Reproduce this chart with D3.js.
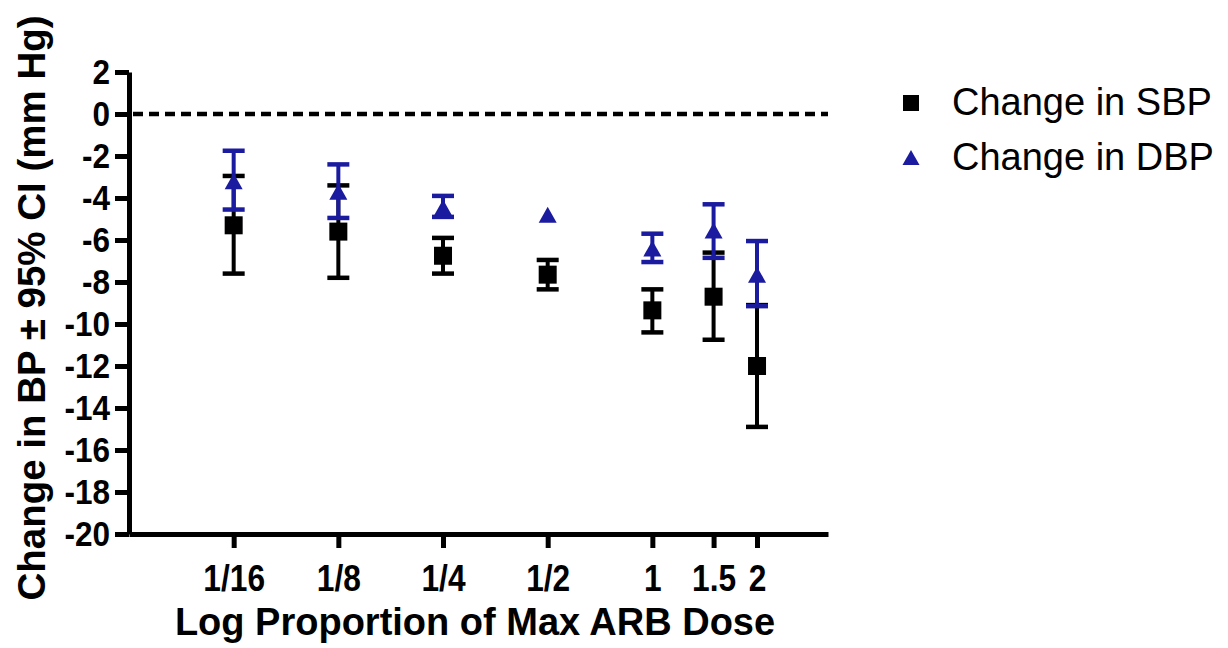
<!DOCTYPE html>
<html>
<head>
<meta charset="utf-8">
<script src="https://cdn.jsdelivr.net/npm/d3@7"></script>
<style>
  html, body { margin: 0; padding: 0; background: #fff; }
  svg { display: block; }
  text { font-family: "Liberation Sans", Arial, Helvetica, sans-serif; }
</style>
</head>
<body>
<svg id="chart" width="1228" height="648"></svg>
<script>
// Dose groups (proportion of maximum ARB dose)
const doseLabels = ["1/16", "1/8", "1/4", "1/2", "1", "1.5", "2"];
const doses = [1 / 16, 1 / 8, 1 / 4, 1 / 2, 1, 1.5, 2];

// Change in systolic BP (mm Hg) with 95% CI
const sbpMean = [-5.3, -5.6, -6.75, -7.65, -9.35, -8.7, -12.0];
const sbpLow  = [-7.6, -7.8, -7.6, -8.35, -10.4, -10.75, -14.9];
const sbpHigh = [-2.95, -3.4, -5.9, -6.95, -8.35, -6.6, -9.1];

// Change in diastolic BP (mm Hg) with 95% CI (null = no interval drawn)
const dbpMean = [-3.2, -3.7, -4.45, -4.8, -6.4, -5.55, -7.65];
const dbpLow  = [-4.55, -4.95, -4.9, null, -7.05, -6.85, -9.15];
const dbpHigh = [-1.75, -2.4, -3.9, null, -5.7, -4.3, -6.05];

const yTicks = d3.range(-20, 3, 2);
const legendLabels = ["Change in SBP", "Change in DBP"];

const BLACK = "#000000";
const BLUE = "#1b1ba0";

const svg = d3.select("#chart");

const x = d3.scaleLog().base(2).domain([1 / 32, 3.2]).range([129, 828]);
const y = d3.scaleLinear().domain([-20, 2]).range([534, 72]);

// Narrow the bold tick labels a little, keeping their height
function condense(sel, factor) {
  sel.each(function () {
    const w = this.getComputedTextLength();
    d3.select(this)
      .attr("textLength", w * factor)
      .attr("lengthAdjust", "spacingAndGlyphs");
  });
}

// Y axis
const yAxis = svg.append("g")
  .attr("transform", "translate(129,0)")
  .call(d3.axisLeft(y).tickValues(yTicks).tickSize(14).tickSizeOuter(0)
    .tickPadding(5).tickFormat(d => String(d)));
yAxis.select(".domain").attr("stroke", BLACK).attr("stroke-width", 5);
yAxis.selectAll(".tick line").attr("stroke", BLACK).attr("stroke-width", 5);
yAxis.selectAll(".tick text")
  .attr("fill", BLACK)
  .style("font-size", "35px")
  .style("font-weight", "bold")
  .call(condense, 0.9);

// X axis
const xAxis = svg.append("g")
  .attr("transform", "translate(0,534)")
  .call(d3.axisBottom(x).tickValues(doses).tickSize(14).tickSizeOuter(0)
    .tickPadding(17).tickFormat((d, i) => doseLabels[i]));
xAxis.select(".domain").attr("stroke", BLACK).attr("stroke-width", 5);
xAxis.selectAll(".tick line").attr("stroke", BLACK).attr("stroke-width", 5);
xAxis.selectAll(".tick text")
  .attr("fill", BLACK)
  .style("font-size", "36px")
  .style("font-weight", "bold")
  .call(condense, 0.88);

// Zero reference line
svg.append("line")
  .attr("x1", x.range()[0] + 4).attr("x2", x.range()[1])
  .attr("y1", y(0)).attr("y2", y(0))
  .attr("stroke", BLACK).attr("stroke-width", 4.5)
  .attr("stroke-dasharray", "10,6");

// Axis titles
svg.append("text")
  .attr("x", 475).attr("y", 635)
  .attr("text-anchor", "middle")
  .style("font-size", "38px").style("font-weight", "bold")
  .text("Log Proportion of Max ARB Dose");

svg.append("text")
  .attr("transform", "translate(45,308) rotate(-90)")
  .attr("text-anchor", "middle")
  .style("font-size", "38.5px").style("font-weight", "bold")
  .text("Change in BP \u00B1 95% CI (mm Hg)");

const CAP = 11;

function drawSeries(mean, low, high, color, shape) {
  const g = svg.append("g");
  const rows = doses.map((d, i) => ({ d, m: mean[i], lo: low[i], hi: high[i] }));
  const withCi = rows.filter(r => r.lo !== null && r.hi !== null);

  g.selectAll("line.stem").data(withCi).join("line")
    .attr("x1", r => x(r.d)).attr("x2", r => x(r.d))
    .attr("y1", r => y(r.lo)).attr("y2", r => y(r.hi))
    .attr("stroke", color).attr("stroke-width", 4);

  ["lo", "hi"].forEach(k => {
    g.selectAll("line.cap-" + k).data(withCi).join("line")
      .attr("x1", r => x(r.d) - CAP).attr("x2", r => x(r.d) + CAP)
      .attr("y1", r => y(r[k])).attr("y2", r => y(r[k]))
      .attr("stroke", color).attr("stroke-width", 4.5);
  });

  if (shape === "square") {
    g.selectAll("rect").data(rows).join("rect")
      .attr("x", r => x(r.d) - 9).attr("y", r => y(r.m) - 9)
      .attr("width", 18).attr("height", 18)
      .attr("fill", color);
  } else {
    g.selectAll("path").data(rows).join("path")
      .attr("d", r => {
        const cx = x(r.d), cy = y(r.m);
        return `M${cx},${cy - 8}L${cx + 9},${cy + 8}L${cx - 9},${cy + 8}Z`;
      })
      .attr("fill", color);
  }
}

drawSeries(sbpMean, sbpLow, sbpHigh, BLACK, "square");
drawSeries(dbpMean, dbpLow, dbpHigh, BLUE, "triangle");

// Legend
const legend = svg.append("g");
legend.append("rect")
  .attr("x", 903).attr("y", 95).attr("width", 16).attr("height", 16)
  .attr("fill", BLACK);
legend.append("path")
  .attr("d", "M911,150L919.5,165L902.5,165Z")
  .attr("fill", BLUE);
legend.selectAll("text").data(legendLabels).join("text")
  .attr("x", 952)
  .attr("y", (d, i) => 115 + i * 55)
  .style("font-size", "38px")
  .attr("fill", BLACK)
  .text(d => d);
</script>
</body>
</html>
